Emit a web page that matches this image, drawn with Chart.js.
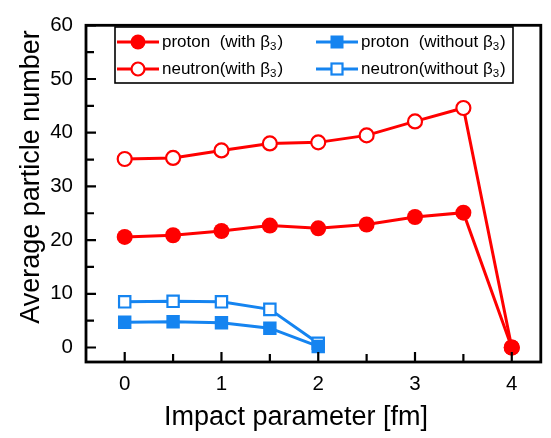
<!DOCTYPE html>
<html>
<head>
<meta charset="utf-8">
<script src="https://cdn.jsdelivr.net/npm/chart.js@4"></script>
<style>
  html, body { margin: 0; padding: 0; background: #fff; }
  #wrap { width: 551px; height: 438px; }
</style>
</head>
<body>
<div id="wrap"><canvas id="particleChart" width="551" height="438"></canvas></div>
<script>
// Data
const impact = [0, 0.5, 1, 1.5, 2, 2.5, 3, 3.5, 4];
const protonWith = [20.6, 20.9, 21.7, 22.7, 22.2, 22.9, 24.3, 25.1, 0];
const neutronWith = [35.1, 35.3, 36.7, 38.0, 38.2, 39.5, 42.1, 44.6, 0];
const impactWithout = [0, 0.5, 1, 1.5, 2];
const protonWithout = [4.7, 4.8, 4.6, 3.6, 0.2];
const neutronWithout = [8.5, 8.6, 8.5, 7.1, 0.8];
const xTicks = [0, 1, 2, 3, 4];
const yTicks = [0, 10, 20, 30, 40, 50, 60];

const RED = "#ff0000";
const BLUE = "#1584f0";
const FONT = "'Liberation Sans', Arial, sans-serif";

function pts(xs, ys) {
  return xs.map((x, i) => ({ x: x, y: ys[i] }));
}

const legendItems = [
  { label: "proton  (with ", color: RED, style: "circle", filled: true, col: 0, row: 0 },
  { label: "neutron(with ", color: RED, style: "circle", filled: false, col: 0, row: 1 },
  { label: "proton  (without ", color: BLUE, style: "rect", filled: true, col: 1, row: 0 },
  { label: "neutron(without ", color: BLUE, style: "rect", filled: false, col: 1, row: 1 }
];

// Frame, inward ticks, legend box and axis titles
const decorations = {
  id: "decorations",
  afterDraw(chart) {
    const ctx = chart.ctx;
    const a = chart.chartArea;
    const xs = chart.scales.x, ys = chart.scales.y;
    ctx.save();
    ctx.strokeStyle = "#000";
    ctx.lineWidth = 2.8;
    ctx.strokeRect(a.left, a.top, a.right - a.left, a.bottom - a.top);

    ctx.lineWidth = 2.2;
    ctx.beginPath();
    for (let i = 0; i < xTicks.length; i++) {
      const px = xs.getPixelForValue(xTicks[i]);
      ctx.moveTo(px, a.bottom); ctx.lineTo(px, a.bottom - 10);
      if (i < xTicks.length - 1) {
        const mx = xs.getPixelForValue((xTicks[i] + xTicks[i + 1]) / 2);
        ctx.moveTo(mx, a.bottom); ctx.lineTo(mx, a.bottom - 8);
      }
    }
    for (let i = 0; i < yTicks.length; i++) {
      const py = ys.getPixelForValue(yTicks[i]);
      ctx.moveTo(a.left, py); ctx.lineTo(a.left + 10, py);
      if (i < yTicks.length - 1) {
        const my = ys.getPixelForValue((yTicks[i] + yTicks[i + 1]) / 2);
        ctx.moveTo(a.left, my); ctx.lineTo(a.left + 8, my);
      }
    }
    ctx.stroke();

    // legend
    ctx.fillStyle = "#fff";
    ctx.fillRect(115, 27, 398, 56);
    ctx.lineWidth = 1.6;
    ctx.strokeStyle = "#000";
    ctx.strokeRect(115, 27, 398, 56);
    legendItems.forEach(it => {
      const x0 = it.col === 0 ? 117 : 316;
      const y0 = it.row === 0 ? 42 : 69;
      ctx.strokeStyle = it.color;
      ctx.lineWidth = 3;
      ctx.beginPath();
      ctx.moveTo(x0, y0); ctx.lineTo(x0 + 42, y0);
      ctx.stroke();
      ctx.fillStyle = it.filled ? it.color : "#fff";
      ctx.lineWidth = 2.2;
      const cx = x0 + 21;
      if (it.style === "circle") {
        ctx.beginPath();
        ctx.arc(cx, y0, it.filled ? 7.5 : 6.5, 0, Math.PI * 2);
        ctx.fill();
        if (!it.filled) ctx.stroke();
      } else {
        if (it.filled) ctx.fillRect(cx - 6.5, y0 - 6.5, 13, 13);
        else { ctx.fillRect(cx - 5.5, y0 - 5.5, 11, 11); ctx.strokeRect(cx - 5.5, y0 - 5.5, 11, 11); }
      }
      ctx.fillStyle = "#000";
      ctx.textBaseline = "middle";
      ctx.textAlign = "left";
      ctx.font = "17px " + FONT;
      let tx = x0 + 45;
      ctx.fillText(it.label, tx, y0);
      tx += ctx.measureText(it.label).width;
      ctx.fillText("\u03B2", tx, y0);
      tx += ctx.measureText("\u03B2").width;
      ctx.font = "11.5px " + FONT;
      ctx.fillText("3", tx, y0 + 5);
      tx += ctx.measureText("3").width;
      ctx.font = "17px " + FONT;
      ctx.fillText(")", tx + 1, y0);
    });

    // axis titles
    ctx.fillStyle = "#000";
    ctx.font = "27px " + FONT;
    ctx.textAlign = "center";
    ctx.textBaseline = "alphabetic";
    ctx.fillText("Impact parameter [fm]", 296, 425);
    ctx.translate(39, 177);
    ctx.rotate(-Math.PI / 2);
    ctx.fillText("Average particle number", 0, 0);
    ctx.restore();
  }
};

function seriesStyle(color, style, filled) {
  return {
    borderColor: color,
    backgroundColor: filled ? color : "#fff",
    pointBackgroundColor: filled ? color : "#fff",
    pointBorderColor: color,
    pointStyle: style,
    pointRadius: style === "rect" ? (filled ? 9.5 : 8) : (filled ? 8 : 7),
    pointBorderWidth: filled ? 0 : 2.2,
    borderWidth: 3,
    showLine: true,
    tension: 0
  };
}

new Chart(document.getElementById("particleChart"), {
  type: "scatter",
  data: {
    datasets: [
      Object.assign({ label: "proton (with b3)", data: pts(impact, protonWith) }, seriesStyle(RED, "circle", true)),
      Object.assign({ label: "neutron(with b3)", data: pts(impact, neutronWith) }, seriesStyle(RED, "circle", false)),
      Object.assign({ label: "proton (without b3)", data: pts(impactWithout, protonWithout) }, seriesStyle(BLUE, "rect", true)),
      Object.assign({ label: "neutron(without b3)", data: pts(impactWithout, neutronWithout) }, seriesStyle(BLUE, "rect", false))
    ]
  },
  options: {
    responsive: false,
    animation: false,
    layout: { padding: { left: 0, top: 12, right: 10, bottom: 0 } },
    plugins: { legend: { display: false }, tooltip: { enabled: false } },
    scales: {
      x: {
        type: "linear",
        min: -0.4,
        max: 4.3,
        grid: { display: false, drawTicks: false },
        border: { display: false },
        afterBuildTicks: s => { s.ticks = xTicks.map(v => ({ value: v })); },
        afterFit: s => { s.height = 76; },
        ticks: { padding: 10, color: "#000", font: { family: FONT, size: 20.5 }, maxRotation: 0 }
      },
      y: {
        min: -2.7,
        max: 60,
        grid: { display: false, drawTicks: false },
        border: { display: false },
        afterBuildTicks: s => { s.ticks = yTicks.map(v => ({ value: v })); },
        afterFit: s => { s.width = 86; },
        ticks: { padding: 13, color: "#000", font: { family: FONT, size: 20.5 } }
      }
    }
  },
  plugins: [decorations]
});
</script>
</body>
</html>
